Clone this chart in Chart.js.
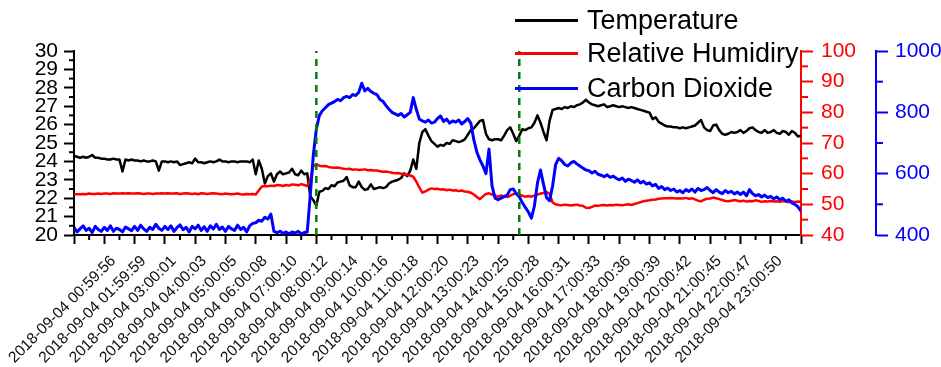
<!DOCTYPE html>
<html>
<head>
<meta charset="utf-8">
<script src="https://cdn.jsdelivr.net/npm/chart.js@4"></script>
<style>
  body { margin: 0; background: #fff; }
  #wrap { position: relative; width: 941px; height: 367px; }
  #chart { position: absolute; left: 0; top: 0; }
  .key { position: absolute; left: 515px; height: 30px; display: flex; align-items: center;
         font-family: 'Liberation Sans', Arial, sans-serif; font-size: 27px; line-height: 30px; color: #000; white-space: nowrap; }
  .key span { display: inline-block; width: 63px; height: 0; border-top: 3px solid; margin-right: 9px; }
</style>
</head>
<body>
<div id="wrap">
  <canvas id="chart" width="941" height="367"></canvas>
  <div class="key" style="top:5px"><span style="border-color:#000"></span>Temperature</div>
  <div class="key" style="top:38px"><span style="border-color:#ff0000"></span>Relative Humidiry</div>
  <div class="key" style="top:73px"><span style="border-color:#0000ff"></span>Carbon Dioxide</div>
</div>
<script>
// hourly tick labels, one per hour mark 1..23
var timeLabels = [
  "2018-09-04 00:59:56", "2018-09-04 01:59:59", "2018-09-04 03:00:01", "2018-09-04 04:00:03",
  "2018-09-04 05:00:05", "2018-09-04 06:00:08", "2018-09-04 07:00:10", "2018-09-04 08:00:12",
  "2018-09-04 09:00:14", "2018-09-04 10:00:16", "2018-09-04 11:00:18", "2018-09-04 12:00:20",
  "2018-09-04 13:00:23", "2018-09-04 14:00:25", "2018-09-04 15:00:28", "2018-09-04 16:00:31",
  "2018-09-04 17:00:33", "2018-09-04 18:00:36", "2018-09-04 19:00:39", "2018-09-04 20:00:42",
  "2018-09-04 21:00:45", "2018-09-04 22:00:47", "2018-09-04 23:00:50"
];

// readings every 6 minutes (10 per row = one hour)
var tempValues = [
  24.3, 24.25, 24.2, 24.25, 24.2, 24.25, 24.35, 24.2, 24.2, 24.15,
  24.15, 24.1, 24.1, 24.15, 24.1, 24.1, 23.45, 24.1, 24.05, 24.1,
  24.05, 24.05, 24.0, 24.05, 24.0, 24.0, 24.05, 24.0, 23.5, 24.0,
  24.0, 23.95, 24.0, 23.95, 24.0, 23.8, 23.85, 23.9, 23.95, 23.9,
  24.15, 23.95, 23.95, 23.9, 23.95, 24.0, 23.95, 24.0, 24.1, 24.0,
  24.0, 23.95, 24.0, 24.0, 23.95, 24.0, 24.0, 24.0, 23.95, 24.1,
  23.3, 24.05, 23.6, 22.8, 23.2, 23.35, 22.9, 23.3, 23.45, 23.3,
  23.35, 23.4, 23.6, 23.3, 23.25, 23.5, 23.3, 23.35, 22.1, 21.9,
  21.6, 22.35, 22.4, 22.55, 22.5, 22.7, 22.65, 22.85, 22.9, 22.95,
  23.15, 22.7, 22.6, 22.6, 22.9, 22.6, 22.45, 22.5, 22.75, 22.5,
  22.55, 22.6, 22.55, 22.6, 22.8, 22.9, 22.95, 23.0, 23.1, 23.35,
  23.2, 23.5, 24.1, 23.6, 25.0, 25.6, 25.75, 25.4, 25.1, 24.95,
  24.8, 24.9, 24.85, 25.0, 24.95, 25.15, 25.1, 25.05, 25.1, 25.2,
  25.45, 25.7, 25.8, 26.0, 26.2, 26.25, 25.5, 25.2, 25.15, 25.2,
  25.2, 25.15, 25.4, 25.7, 25.85, 25.5, 25.1, 25.4, 25.75, 25.7,
  25.8, 25.85, 26.1, 26.5, 26.1, 25.6, 25.15, 26.2, 26.8, 26.85,
  26.9, 26.85, 26.95, 26.9, 27.0, 26.95, 27.05, 27.1, 27.2, 27.35,
  27.2, 27.1, 27.05, 27.0, 27.05, 27.1, 26.95, 27.0, 27.05, 27.0,
  26.95, 27.0, 26.95, 26.9, 26.95, 26.9, 26.85, 26.8, 26.75, 26.7,
  26.65, 26.3, 26.4, 26.15, 26.05, 25.95, 25.9, 25.9, 25.85, 25.85,
  25.8, 25.85, 25.8, 25.85, 25.9, 25.95, 26.1, 26.25, 25.85, 25.7,
  25.65, 25.95, 26.0, 25.7, 25.5, 25.45, 25.5, 25.6, 25.55, 25.6,
  25.7, 25.55, 25.65, 25.8, 25.85, 25.7, 25.6, 25.55, 25.7, 25.55,
  25.6, 25.7, 25.55, 25.5, 25.65, 25.6, 25.45, 25.65, 25.55, 25.35,
  25.4
];

var humidityValues = [
  53.2, 53.3, 53.3, 53.4, 53.3, 53.5, 53.4, 53.4, 53.5, 53.4,
  53.5, 53.5, 53.4, 53.6, 53.5, 53.5, 53.6, 53.5, 53.6, 53.5,
  53.5, 53.6, 53.5, 53.4, 53.5, 53.5, 53.4, 53.5, 53.5, 53.6,
  53.5, 53.6, 53.5, 53.5, 53.6, 53.4, 53.5, 53.6, 53.5, 53.4,
  53.5, 53.3, 53.6, 53.5, 53.4, 53.5, 53.6, 53.5, 53.4, 53.3,
  53.5, 53.4, 53.3, 53.4, 53.5, 53.3, 53.2, 53.4, 53.3, 53.4,
  53.2, 54.5, 55.8, 56.0, 55.9, 56.1, 56.0, 56.3, 56.2, 56.0,
  56.3, 56.1, 56.5, 56.4, 56.2, 56.6, 56.3, 56.0, 58.0, 62.5,
  63.0, 62.6, 62.4, 62.5, 62.2, 62.0, 61.9, 62.0, 61.8, 61.6,
  61.5, 61.6, 61.3, 61.4, 61.2, 61.3, 61.4, 61.1, 61.2, 61.0,
  61.0, 60.8, 60.6, 60.7, 60.5, 60.3, 60.1, 60.2, 60.0, 59.8,
  59.6, 59.4, 59.0, 57.4, 55.5, 53.8, 54.2, 54.8, 55.2, 55.0,
  55.1, 54.8, 54.9, 54.6, 54.8, 54.5, 54.6, 54.3, 54.5, 54.2,
  54.1, 53.8, 53.2, 52.4, 51.7, 52.6, 53.4, 53.6, 53.2, 52.8,
  52.5, 52.9, 52.6, 52.4, 52.8, 53.3, 53.6, 53.2, 52.8, 52.5,
  52.7, 52.5, 52.9, 53.2, 53.5, 53.7, 54.0, 53.4, 50.6, 50.0,
  49.8, 49.7, 49.9, 49.8, 49.6, 49.8, 49.9, 49.6, 49.5, 48.9,
  48.8, 49.2, 49.6, 49.5, 49.7, 49.8, 49.6, 49.8, 49.7, 49.9,
  49.8, 49.7, 49.9, 50.0, 49.8, 50.1, 50.4, 50.7, 51.0, 51.2,
  51.3, 51.5, 51.6, 51.8, 51.9, 52.0, 52.0, 52.1, 52.0, 51.9,
  52.0, 51.9, 52.1, 51.8, 52.0, 51.6, 51.2, 51.0, 51.5, 51.8,
  51.9, 52.2, 52.0, 51.7, 51.4, 51.1, 51.0, 51.2, 51.4, 51.2,
  51.0, 51.2, 50.9, 51.1, 51.0, 51.3, 51.1, 50.8, 51.0, 50.9,
  51.1, 50.9, 51.0, 50.8, 51.1, 50.9, 50.7, 50.9, 50.8, 50.9,
  50.8
];

var co2Values = [
  425, 410, 420, 430, 415, 422, 408, 428, 418, 412,
  425, 415, 430, 412, 422, 418, 410, 426, 420, 414,
  428, 415, 432, 420, 412, 425, 418, 435, 422, 415,
  428, 418, 430, 412, 424, 433, 417, 425, 410, 428,
  420, 432, 415, 427, 412, 430, 420, 435, 418, 426,
  412, 428, 420, 415, 432, 418, 425, 410, 430, 438,
  440, 448, 445, 458, 452, 468, 412, 408, 412, 405,
  410, 404, 410, 406, 412, 404, 408, 410, 530, 660,
  745, 790, 805, 815, 825, 830, 835, 842, 838, 848,
  852, 848, 858, 855, 865, 895, 870, 878, 868, 862,
  858, 842, 836, 822, 810, 800, 795, 790, 796, 785,
  792, 800, 848, 810, 778, 772, 768, 775, 765, 768,
  780, 788, 770, 778, 765, 772, 768, 775, 762, 770,
  780, 765, 710, 670, 645, 625, 600, 680, 560, 520,
  515, 520, 525, 530, 548, 550, 535, 525, 505, 490,
  475, 455, 495, 570, 612, 565, 522, 512, 560, 630,
  650, 642, 630, 625, 635, 640, 632, 625, 618, 612,
  610, 602, 608, 598, 595, 590, 596, 588, 592, 585,
  580, 586, 575, 582, 578, 572, 580, 570, 575, 566,
  570, 560, 565, 552, 558, 548, 553, 545, 550, 540,
  545, 538, 548, 542, 550, 540, 552, 545, 548, 555,
  545, 538, 548, 540, 535, 545, 538, 542, 534, 540,
  532, 540, 528, 548, 535, 528, 532, 524, 530, 522,
  526, 518, 524, 515, 520, 510, 515, 505, 500, 492,
  478
];

// green dashed markers (hours since midnight)
var eventHours = [8.0, 14.7];

function toPoints(values) {
  return values.map(function (v, i) { return { x: i / 10, y: v }; });
}
function range(a, b, step) {
  var out = [];
  for (var v = a; v <= b + 1e-9; v += step) out.push(Math.round(v * 100) / 100);
  return out;
}
function plain(v) { return String(v); }

var minorTicks = {
  id: 'minorTicks',
  afterDraw: function (chart) {
    var ctx = chart.ctx, s = chart.scales;
    ctx.save();
    ctx.lineWidth = 2;
    function seg(x1, y1, x2, y2, c) {
      ctx.strokeStyle = c;
      ctx.beginPath(); ctx.moveTo(x1, y1); ctx.lineTo(x2, y2); ctx.stroke();
    }
    range(0.5, 23.5, 1).forEach(function (v) {
      var p = s.x.getPixelForValue(v); seg(p, s.x.top, p, s.x.top + 5, '#000');
    });
    range(20.5, 29.5, 1).forEach(function (v) {
      var p = s.y.getPixelForValue(v); seg(s.y.right - 5, p, s.y.right, p, '#000');
    });
    range(45, 95, 10).forEach(function (v) {
      var p = s.y1.getPixelForValue(v); seg(s.y1.left, p, s.y1.left + 7, p, '#ff0000');
    });
    range(500, 900, 200).forEach(function (v) {
      var p = s.y2.getPixelForValue(v); seg(s.y2.left, p, s.y2.left + 7, p, '#0000ff');
    });
    ctx.restore();
  }
};

Chart.defaults.font.family = "'Liberation Sans', Arial, sans-serif";

var datasets = [
  { data: toPoints(tempValues), yAxisID: 'y', borderColor: '#000000', borderWidth: 2.5, order: 3 },
  { data: toPoints(humidityValues), yAxisID: 'y1', borderColor: '#ff0000', borderWidth: 2.5, order: 2 },
  { data: toPoints(co2Values), yAxisID: 'y2', borderColor: '#0000ff', borderWidth: 3, order: 1 }
];
eventHours.forEach(function (h) {
  datasets.push({ data: [{ x: h, y: 20 }, { x: h, y: 30 }], yAxisID: 'y', borderColor: '#008000',
                  borderWidth: 2.5, borderDash: [7, 6], order: 0 });
});

new Chart(document.getElementById('chart'), {
  type: 'line',
  data: { datasets: datasets },
  options: {
    responsive: false,
    animation: false,
    layout: { padding: { top: 51, left: 0, right: 0, bottom: 0 } },
    elements: { point: { radius: 0 }, line: { tension: 0, borderJoinStyle: 'round' } },
    plugins: { legend: { display: false }, tooltip: { enabled: false } },
    scales: {
      x: {
        type: 'linear', min: 0, max: 24,
        afterBuildTicks: function (a) { a.ticks = range(0, 24, 1).map(function (v) { return { value: v }; }); },
        afterFit: function (a) { a.height = 132; },
        ticks: {
          autoSkip: false, minRotation: 45, maxRotation: 45, padding: 8, labelOffset: 9,
          color: '#111', font: { size: 15.5 },
          callback: function (v) { return timeLabels[v - 1] || ''; }
        },
        grid: { drawOnChartArea: false, tickLength: 9, tickColor: '#000', tickWidth: 2 },
        border: { color: '#000', width: 2 }
      },
      y: {
        position: 'left', min: 20, max: 30,
        afterBuildTicks: function (a) { a.ticks = range(20, 30, 1).map(function (v) { return { value: v }; }); },
        afterFit: function (a) { a.width = 74; },
        ticks: { autoSkip: false, padding: 6, color: '#000', font: { size: 21 }, callback: plain },
        grid: { drawOnChartArea: false, tickLength: 10, tickColor: '#000', tickWidth: 2 },
        border: { color: '#000', width: 2 }
      },
      y1: {
        position: 'right', min: 40, max: 100, weight: 1,
        afterBuildTicks: function (a) { a.ticks = range(40, 100, 10).map(function (v) { return { value: v }; }); },
        afterFit: function (a) { a.width = 75; },
        ticks: { autoSkip: false, padding: 8, color: '#ff0000', font: { size: 21 }, callback: plain },
        grid: { drawOnChartArea: false, tickLength: 12, tickColor: '#ff0000', tickWidth: 2 },
        border: { color: '#ff0000', width: 2 }
      },
      y2: {
        position: 'right', min: 400, max: 1000, weight: 2,
        afterBuildTicks: function (a) { a.ticks = range(400, 1000, 200).map(function (v) { return { value: v }; }); },
        afterFit: function (a) { a.width = 65; },
        ticks: { autoSkip: false, padding: 7, color: '#0000ff', font: { size: 21 }, callback: plain },
        grid: { drawOnChartArea: false, tickLength: 12, tickColor: '#0000ff', tickWidth: 2 },
        border: { color: '#0000ff', width: 2 }
      }
    }
  },
  plugins: [minorTicks]
});
</script>
</body>
</html>
